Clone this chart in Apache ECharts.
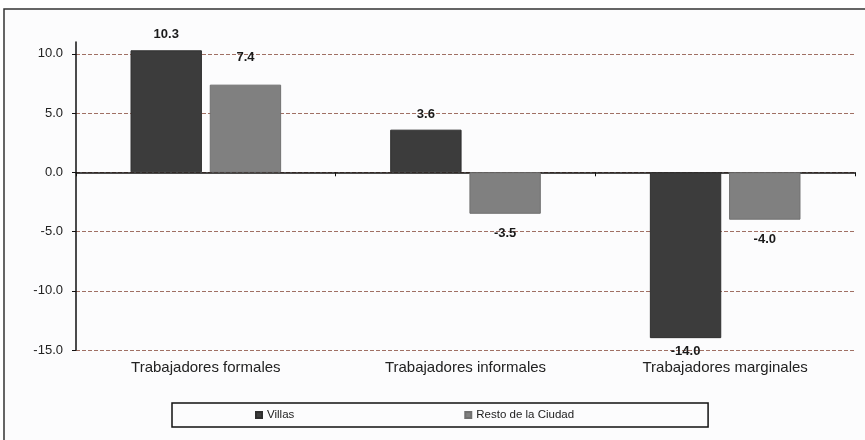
<!DOCTYPE html>
<html>
<head>
<meta charset="utf-8">
<script src="https://cdn.jsdelivr.net/npm/echarts@6/dist/echarts.min.js"></script>
<style>
  html, body { margin: 0; padding: 0; background: #fff; }
  #chart { width: 865px; height: 440px; }
</style>
</head>
<body>
<div id="chart"></div>
<script>
// categories and values
const categories = ['Trabajadores formales', 'Trabajadores informales', 'Trabajadores marginales'];
const villas = [10.3, 3.6, -14.0];
const restoCiudad = [7.4, -3.5, -4.0];
const seriesNames = ['Villas', 'Resto de la Ciudad'];

const chart = echarts.init(document.getElementById('chart'));

// label distance per bar (the original puts some labels a bit further out)
const villasDist = [9, 9, 7];
const restoDist = [21, 13, 13];

function buildItems(values, dists) {
  return values.map((v, i) => ({
    value: v,
    label: { position: v >= 0 ? 'top' : 'bottom', distance: dists[i] }
  }));
}

const FONT = 'Liberation Sans, Arial, sans-serif';

const labelStyle = {
  show: true,
  fontFamily: FONT,
  fontSize: 13,
  fontWeight: 'bold',
  color: '#1a1a1a',
  formatter: p => p.value.toFixed(1)
};

const option = {
  backgroundColor: '#fff',
  animation: false,
  graphic: [{
    type: 'rect',
    shape: { x: 4, y: 9, width: 880, height: 450 },
    style: { fill: '#fcfcfd', stroke: '#333', lineWidth: 1.5 },
    z: -10
  }],
  legend: {
    data: seriesNames,
    left: 172,
    top: 403,
    orient: 'horizontal',
    icon: 'rect',
    itemWidth: 6,
    itemHeight: 6,
    itemGap: 170,
    itemTextGap: 2,
    padding: [6, 134, 6, 83],
    borderColor: '#111',
    borderWidth: 1.5,
    textStyle: { fontFamily: FONT, fontSize: 11.5, color: '#222' }
  },
  grid: { left: 76, right: 10, top: 42, bottom: 90 },
  xAxis: [{
    type: 'category',
    data: categories,
    position: 'bottom',
    axisLine: { show: false, onZero: false },
    axisTick: { show: false },
    axisLabel: {
      margin: 10,
      fontFamily: FONT,
      fontSize: 15,
      color: '#222'
    }
  }, {
    type: 'category',
    data: categories,
    position: 'top',
    axisLine: { show: true, onZero: true, lineStyle: { color: '#111', width: 1.5 } },
    axisTick: { show: true, inside: true, length: 4, lineStyle: { color: '#111' } },
    axisLabel: { show: false }
  }],
  yAxis: {
    type: 'value',
    min: -15,
    max: 11,
    interval: 5,
    axisLine: { show: true, lineStyle: { color: '#111', width: 1.5 } },
    axisTick: { show: true, length: 4, lineStyle: { color: '#111' } },
    axisLabel: {
      showMaxLabel: false,
      margin: 13,
      fontFamily: FONT,
      fontSize: 13,
      color: '#222',
      formatter: v => v === 11 ? '' : v.toFixed(1)
    },
    splitLine: {
      show: true,
      showMaxLine: false,
      lineStyle: { color: '#a07064', type: [4, 2], width: 1 }
    }
  },
  series: [{
    name: seriesNames[0],
    type: 'bar',
    xAxisIndex: 0,
    data: buildItems(villas, villasDist),
    barGap: '11%',
    barCategoryGap: '42%',
    itemStyle: { color: '#3c3c3c', borderColor: '#2e2e2e', borderWidth: 1 },
    label: labelStyle
  }, {
    name: seriesNames[1],
    type: 'bar',
    xAxisIndex: 0,
    data: buildItems(restoCiudad, restoDist),
    barGap: '11%',
    barCategoryGap: '42%',
    itemStyle: { color: '#808080', borderColor: '#707070', borderWidth: 1 },
    label: labelStyle
  }]
};

chart.setOption(option);
</script>
</body>
</html>
